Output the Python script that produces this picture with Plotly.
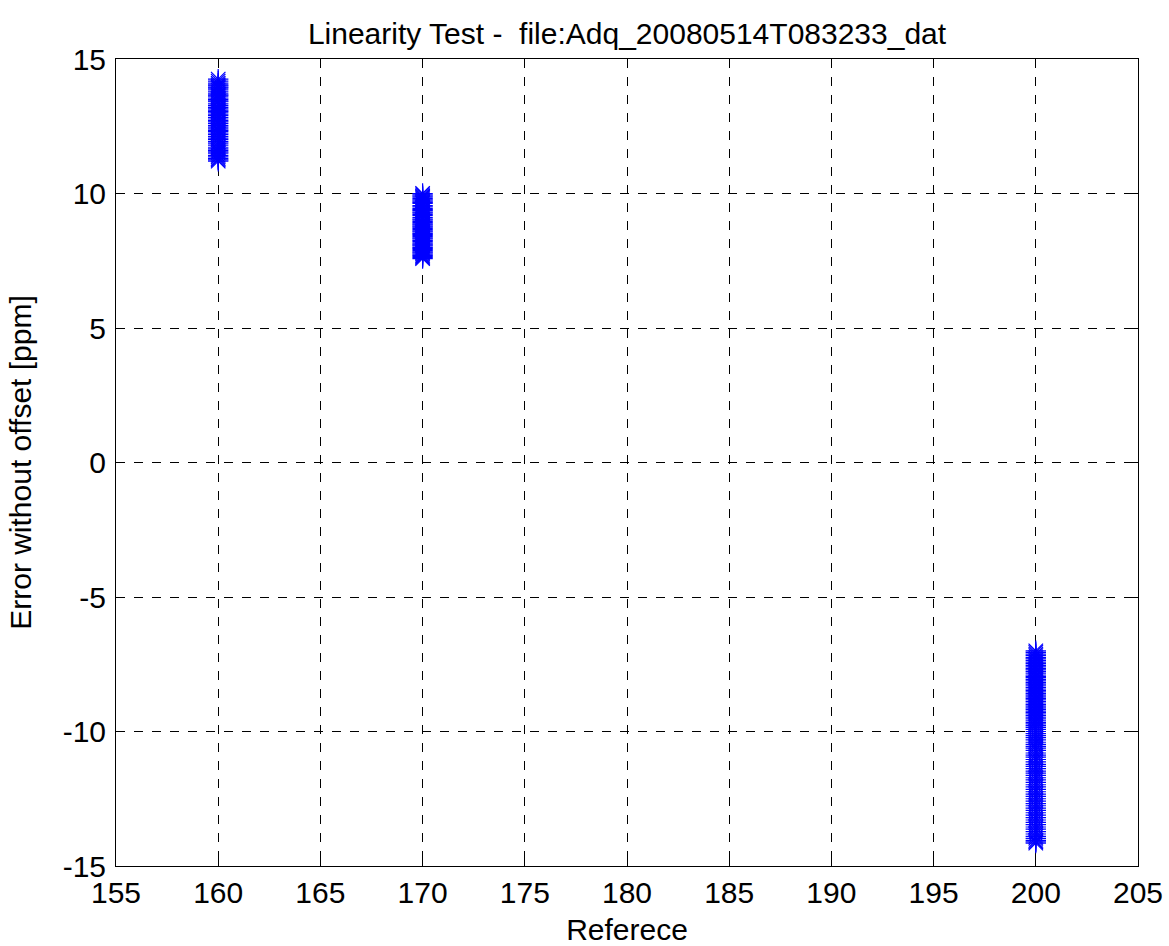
import plotly.graph_objects as go

# Reference values (x) for each cluster
ref_160 = 160
ref_170 = 170
ref_200 = 200

err_160 = [14.25, 14.18, 14.1, 14.04, 14.0, 13.95, 13.92, 13.85, 13.78, 13.7, 13.66, 13.62,
           13.55, 13.5, 13.44, 13.41, 13.33, 13.27, 13.2, 13.15, 13.1, 13.05, 13.02, 12.95,
           12.9, 12.83, 12.77, 12.71, 12.66, 12.6, 12.52, 12.47, 12.4, 12.35, 12.31, 12.25,
           12.2, 12.12, 12.06, 12.0, 11.93, 11.87, 11.8, 11.72, 11.66, 11.6, 11.55, 11.5,
           11.42, 11.36, 11.3, 11.25, 11.2]
err_170 = [10.0, 9.95, 9.9, 9.86, 9.81, 9.76, 9.72, 9.67, 9.63, 9.55, 9.5, 9.44, 9.4,
           9.36, 9.31, 9.27, 9.22, 9.18, 9.1, 9.05, 9.01, 8.96, 8.92, 8.87, 8.83, 8.79,
           8.75, 8.7, 8.66, 8.61, 8.57, 8.52, 8.48, 8.44, 8.4, 8.35, 8.31, 8.26, 8.22,
           8.17, 8.13, 8.09, 8.05, 8.0, 7.96, 7.92, 7.88, 7.83, 7.79, 7.75, 7.7, 7.66,
           7.62, 7.58]
err_200 = [-7.0, -7.06, -7.12, -7.18, -7.25, -7.3, -7.36, -7.42, -7.48, -7.54, -7.6,
           -7.66, -7.71, -7.77, -7.83, -7.9, -7.95, -8.0, -8.06, -8.12, -8.18, -8.24,
           -8.3, -8.36, -8.42, -8.47, -8.53, -8.59, -8.65, -8.71, -8.77, -8.82, -8.88,
           -8.94, -9.0, -9.06, -9.12, -9.18, -9.24, -9.3, -9.35, -9.41, -9.47, -9.53,
           -9.6, -9.66, -9.72, -9.78, -9.85, -9.92, -10.0, -10.08, -10.15, -10.23,
           -10.31, -10.4, -10.48, -10.55, -10.62, -10.7, -10.8, -10.88, -10.95, -11.04,
           -11.13, -11.22, -11.3, -11.38, -11.47, -11.55, -11.63, -11.72, -11.8, -11.89,
           -11.98, -12.06, -12.15, -12.24, -12.33, -12.41, -12.5, -12.59, -12.68, -12.76,
           -12.85, -12.93, -13.02, -13.11, -13.2, -13.29, -13.38, -13.46, -13.55, -13.63,
           -13.72, -13.81, -13.9, -13.97, -14.05, -14.1, -14.15]

x_vals = [ref_160] * len(err_160) + [ref_170] * len(err_170) + [ref_200] * len(err_200)
y_vals = err_160 + err_170 + err_200

x_ticks = [155, 160, 165, 170, 175, 180, 185, 190, 195, 200, 205]
y_ticks = [-15, -10, -5, 0, 5, 10, 15]

FONT = "Liberation Sans, Arial, Helvetica, sans-serif"

fig = go.Figure()
fig.add_trace(go.Scatter(
    x=x_vals, y=y_vals, mode="markers",
    marker=dict(symbol="asterisk-open", size=17, color="#0000ff",
                line=dict(color="#0000ff", width=1.2)),
    showlegend=False,
))

axis_common = dict(
    showline=True, linecolor="black", linewidth=1, mirror="all",
    ticks="inside", ticklen=8, tickcolor="black",
    showgrid=True, gridcolor="black", griddash="dash", gridwidth=1,
    zeroline=False, automargin=False,
    tickfont=dict(family=FONT, size=30, color="black"),
)

fig.update_xaxes(range=[155, 205], tickvals=x_ticks, ticktext=[str(v) for v in x_ticks],
                 title=dict(text="Referece", font=dict(family=FONT, size=30, color="black"),
                            standoff=13),
                 **axis_common)
fig.update_yaxes(range=[-15, 15], tickvals=y_ticks, ticktext=[str(v) for v in y_ticks],
                 ticklabelstandoff=3,
                 title=dict(text="Error without offset [ppm]",
                            font=dict(family=FONT, size=30, color="black"),
                            standoff=22),
                 **axis_common)

fig.update_layout(
    width=1169, height=946,
    margin=dict(l=116, r=31, t=59, b=80, autoexpand=False),
    paper_bgcolor="white", plot_bgcolor="white",
    title=dict(text="Linearity Test - \u00a0file:Adq_20080514T083233_dat",
               x=0.5, xref="paper", xanchor="center", y=1 - 33 / 946, yanchor="middle",
               font=dict(family=FONT, size=30, color="black")),
)

fig.write_html("out.html")
